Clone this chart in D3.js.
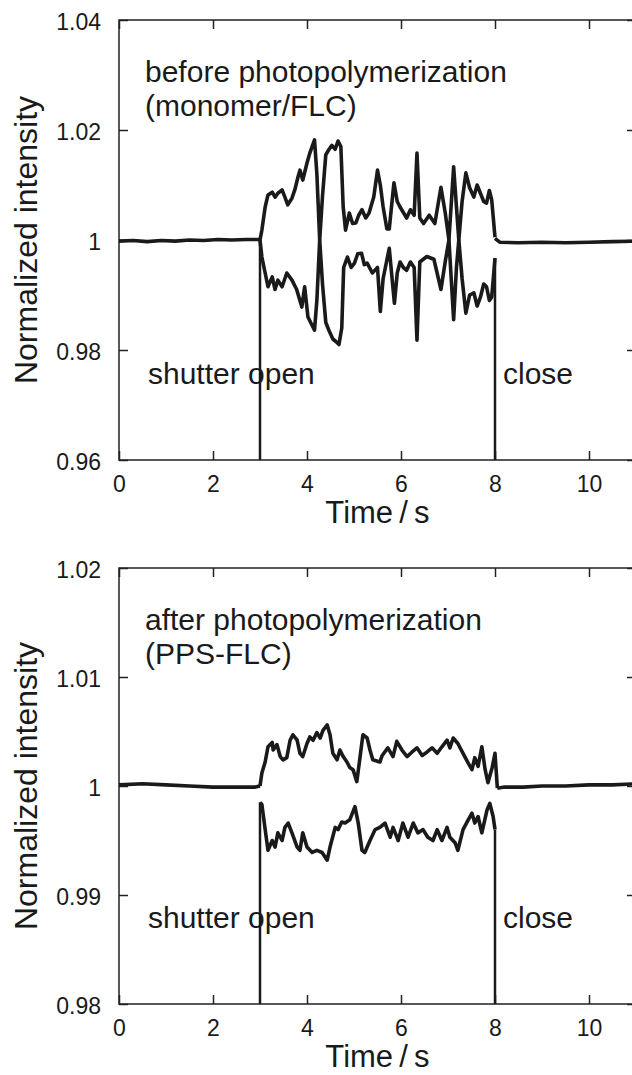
<!DOCTYPE html>
<html lang="en">
<head>
<meta charset="utf-8" />
<title>Normalized intensity vs time</title>
<script src="https://d3js.org/d3.v7.min.js"></script>
<style>
  body { margin: 0; background: #fff; }
  svg { display: block; font-family: "Liberation Sans", Arial, sans-serif; fill: #1a1a1a; }
  .axis path { display: none; }
  .axis line { stroke: #222; stroke-width: 1.5; }
  .axis text { font-size: 23px; fill: #1a1a1a; }
  .frame { fill: none; stroke: #222; stroke-width: 1.5; }
  .trace { fill: none; stroke: #1a1a1a; stroke-width: 3.6; stroke-linejoin: round; }
  .shutter { stroke: #1a1a1a; stroke-width: 2.5; }
</style>
</head>
<body>
<svg id="chart" width="632" height="1075"></svg>
<script>
// ---- data ----
var timeTicks = [0, 2, 4, 6, 8, 10];
var shutterTimes = [3, 8];

var monoTicks = [0.96, 0.98, 1, 1.02, 1.04];
var ppsTicks = [0.98, 0.99, 1, 1.01, 1.02];

// before photopolymerization (monomer/FLC)
var monoPre = [[0,0.9998],[0.3,0.9999],[0.6,0.9997],[0.9,0.9999],[1.2,0.9998],[1.5,1.0000],[1.8,0.9999],[2.1,1.0001],[2.4,1.0000],[2.7,1.0001],[3.0,1.0001]];
var monoPost = [[8.0,1.0003],[8.1,0.9996],[8.5,0.9995],[9.0,0.9996],[9.5,0.9995],[10.0,0.9996],[10.5,0.9997],[11.0,0.9998]];
var monoUp = [[3.00,1.000],[3.04,1.0018],[3.11,1.006],[3.17,1.0082],[3.26,1.0087],[3.32,1.0078],[3.38,1.0085],[3.47,1.0091],[3.53,1.0078],[3.59,1.0064],[3.68,1.0076],[3.74,1.0091],[3.81,1.0115],[3.85,1.0127],[3.91,1.0109],[4.00,1.014],[4.06,1.0158],[4.16,1.0182],[4.21,1.012],[4.27,1.000],[4.33,1.008],[4.40,1.0155],[4.47,1.0165],[4.53,1.0172],[4.60,1.0165],[4.66,1.0180],[4.72,1.0170],[4.77,1.006],[4.82,1.0018],[4.90,1.0049],[4.97,1.0030],[5.04,1.0031],[5.10,1.0045],[5.17,1.0055],[5.25,1.0040],[5.32,1.0049],[5.42,1.0078],[5.50,1.0127],[5.56,1.010],[5.62,1.006],[5.70,1.002],[5.75,1.002],[5.85,1.0104],[5.92,1.0070],[5.98,1.006],[6.05,1.0050],[6.12,1.004],[6.20,1.0055],[6.28,1.0045],[6.34,1.0158],[6.40,1.004],[6.48,1.003],[6.60,1.0045],[6.72,1.003],[6.85,1.0096],[6.94,1.0050],[7.02,1.000],[7.12,1.0133],[7.18,1.0060],[7.23,1.000],[7.30,1.0070],[7.38,1.0122],[7.46,1.0095],[7.55,1.0078],[7.62,1.0100],[7.69,1.0085],[7.76,1.0070],[7.82,1.0067],[7.88,1.0090],[7.93,1.0073],[8.00,1.0005]];
var monoDown = [[3.00,1.000],[3.04,0.9969],[3.11,0.994],[3.17,0.9915],[3.26,0.9933],[3.32,0.991],[3.38,0.9927],[3.47,0.9915],[3.57,0.994],[3.68,0.9927],[3.78,0.991],[3.89,0.9878],[3.95,0.9915],[4.02,0.986],[4.16,0.9836],[4.21,0.989],[4.27,1.000],[4.33,0.992],[4.40,0.985],[4.47,0.9835],[4.55,0.982],[4.62,0.9815],[4.68,0.981],[4.74,0.984],[4.78,0.995],[4.86,0.9969],[4.94,0.9950],[5.01,0.9958],[5.08,0.9975],[5.16,0.9976],[5.22,0.9955],[5.28,0.9958],[5.39,0.994],[5.50,0.995],[5.56,0.9870],[5.62,0.993],[5.75,0.9985],[5.86,0.9885],[5.92,0.9940],[5.98,0.996],[6.05,0.9950],[6.12,0.9945],[6.20,0.9960],[6.28,0.995],[6.34,0.9818],[6.40,0.996],[6.55,0.997],[6.70,0.9965],[6.85,0.991],[6.94,0.9960],[7.02,1.000],[7.12,0.9855],[7.18,0.9950],[7.23,1.000],[7.30,0.9930],[7.38,0.9867],[7.46,0.9900],[7.55,0.9904],[7.62,0.9880],[7.69,0.9896],[7.76,0.9920],[7.82,0.9915],[7.88,0.9890],[7.93,0.9896],[8.00,0.9967]];

// after photopolymerization (PPS-FLC)
var ppsPre = [[0,1.0001],[0.5,1.0002],[1.0,1.0001],[1.5,1.0000],[2.0,0.9999],[2.5,0.9999],[2.9,0.9999],[3.0,1.0000]];
var ppsPost = [[8.05,0.9998],[8.2,0.9999],[8.6,0.9999],[9.0,1.0000],[9.5,1.0000],[10.0,1.0001],[10.5,1.0001],[11.0,1.0002]];
var ppsUp = [[3.00,1.0000],[3.04,1.0012],[3.11,1.0022],[3.17,1.0036],[3.26,1.0040],[3.28,1.0033],[3.36,1.0038],[3.43,1.0027],[3.49,1.0024],[3.57,1.0026],[3.64,1.0042],[3.70,1.0047],[3.79,1.0042],[3.85,1.0030],[3.91,1.0027],[4.00,1.0039],[4.06,1.0045],[4.13,1.0042],[4.21,1.0049],[4.28,1.0044],[4.34,1.0051],[4.43,1.0056],[4.49,1.0047],[4.55,1.0030],[4.64,1.0024],[4.70,1.0033],[4.77,1.0027],[4.85,1.0022],[4.91,1.0017],[4.98,1.0015],[5.06,1.0004],[5.13,1.0027],[5.19,1.0047],[5.28,1.0044],[5.34,1.0033],[5.40,1.0024],[5.55,1.0022],[5.60,1.0028],[5.72,1.0035],[5.83,1.0027],[5.91,1.0041],[6.02,1.0033],[6.13,1.0027],[6.23,1.0031],[6.34,1.0035],[6.45,1.0028],[6.55,1.0031],[6.66,1.0035],[6.77,1.0030],[6.87,1.0036],[6.98,1.0042],[7.04,1.0035],[7.11,1.0044],[7.21,1.0039],[7.32,1.0030],[7.43,1.0021],[7.51,1.0015],[7.57,1.0026],[7.64,1.0018],[7.72,1.0036],[7.79,1.0015],[7.85,1.0003],[7.94,1.0017],[8.00,1.0030],[8.05,0.9998]];
var ppsDown = [[3.00,0.9985],[3.04,0.9983],[3.11,0.9960],[3.17,0.9941],[3.26,0.9950],[3.32,0.9944],[3.38,0.9957],[3.47,0.9950],[3.53,0.9962],[3.60,0.9966],[3.68,0.9957],[3.79,0.9944],[3.85,0.9941],[3.91,0.9957],[4.00,0.9944],[4.11,0.9939],[4.21,0.9941],[4.32,0.9939],[4.43,0.9932],[4.49,0.9944],[4.60,0.9962],[4.66,0.9960],[4.74,0.9967],[4.81,0.9966],[4.91,0.9969],[5.02,0.9981],[5.09,0.9966],[5.17,0.9941],[5.23,0.9939],[5.34,0.9950],[5.45,0.9960],[5.55,0.9962],[5.66,0.9966],[5.77,0.9953],[5.83,0.9962],[5.94,0.9950],[6.04,0.9966],[6.15,0.9953],[6.26,0.9966],[6.36,0.9957],[6.47,0.9960],[6.57,0.9953],[6.68,0.9950],[6.77,0.9960],[6.87,0.9950],[6.98,0.9962],[7.04,0.9953],[7.15,0.9948],[7.21,0.9941],[7.32,0.9960],[7.43,0.9969],[7.51,0.9975],[7.57,0.9966],[7.64,0.9972],[7.72,0.9957],[7.83,0.9978],[7.89,0.9984],[7.96,0.9972],[8.00,0.9960]];

var svg = d3.select("#chart");
var x = d3.scaleLinear().domain([0, 11]).range([119, 636]);

function fmt(d) { return String(+d.toFixed(2)); }

function panel(p) {
  var y = d3.scaleLinear().domain(p.domain).range([p.bottom, p.top]);
  var g = svg.append("g");
  var line = d3.line().x(function(d) { return x(d[0]); }).y(function(d) { return y(d[1]); });

  // frame
  g.append("rect").attr("class", "frame")
    .attr("x", x(0)).attr("y", p.top)
    .attr("width", x(11) - x(0)).attr("height", p.bottom - p.top);

  // inward ticks on all four sides
  g.append("g").attr("class", "axis").attr("transform", "translate(" + x(0) + ",0)")
    .call(d3.axisLeft(y).tickValues(p.ticks).tickFormat(fmt).tickSizeInner(-9).tickSizeOuter(0).tickPadding(18))
    .selectAll("text").attr("dy", "0.4em");
  g.append("g").attr("class", "axis").attr("transform", "translate(" + x(11) + ",0)")
    .call(d3.axisRight(y).tickValues(p.ticks).tickFormat("").tickSizeInner(-9).tickSizeOuter(0));
  g.append("g").attr("class", "axis").attr("transform", "translate(0," + p.bottom + ")")
    .call(d3.axisBottom(x).tickValues(timeTicks).tickFormat(d3.format("d")).tickSizeInner(-9).tickSizeOuter(0).tickPadding(16));
  g.append("g").attr("class", "axis").attr("transform", "translate(0," + p.top + ")")
    .call(d3.axisTop(x).tickValues(timeTicks).tickFormat("").tickSizeInner(-9).tickSizeOuter(0));

  // shutter open / close lines
  var ends = [p.down[0], p.down[p.down.length - 1]];
  g.selectAll(".shutter").data(shutterTimes).enter().append("line").attr("class", "shutter")
    .attr("x1", function(d) { return x(d); }).attr("x2", function(d) { return x(d); })
    .attr("y1", p.bottom).attr("y2", function(d, i) { return y(ends[i][1]); });

  // traces
  [p.pre, p.post, p.up, p.down].forEach(function(s) {
    g.append("path").attr("class", "trace").attr("d", line(s));
  });

  // labels
  g.append("text").attr("transform", "translate(37," + ((p.top + p.bottom) / 2) + ") rotate(-90)")
    .attr("text-anchor", "middle").style("font-size", "32px").text("Normalized intensity");
  g.append("text").attr("x", x(5.5)).attr("y", p.bottom + 63)
    .attr("text-anchor", "middle").style("font-size", "31px").text("Time\u2009/\u2009s");
  g.append("text").attr("x", 145).attr("y", p.top + 62).style("font-size", "30px").text(p.title1);
  g.append("text").attr("x", 145).attr("y", p.top + 96).style("font-size", "30px").text(p.title2);
  g.append("text").attr("x", 148).attr("y", p.bottom - 76).style("font-size", "30px").text("shutter open");
  g.append("text").attr("x", 503).attr("y", p.bottom - 76).style("font-size", "30px").text("close");
}

panel({ domain: [0.96, 1.04], ticks: monoTicks, top: 20, bottom: 460,
  pre: monoPre, post: monoPost, up: monoUp, down: monoDown,
  title1: "before photopolymerization", title2: "(monomer/FLC)" });

panel({ domain: [0.98, 1.02], ticks: ppsTicks, top: 568, bottom: 1004,
  pre: ppsPre, post: ppsPost, up: ppsUp, down: ppsDown,
  title1: "after photopolymerization", title2: "(PPS-FLC)" });
</script>
</body>
</html>
